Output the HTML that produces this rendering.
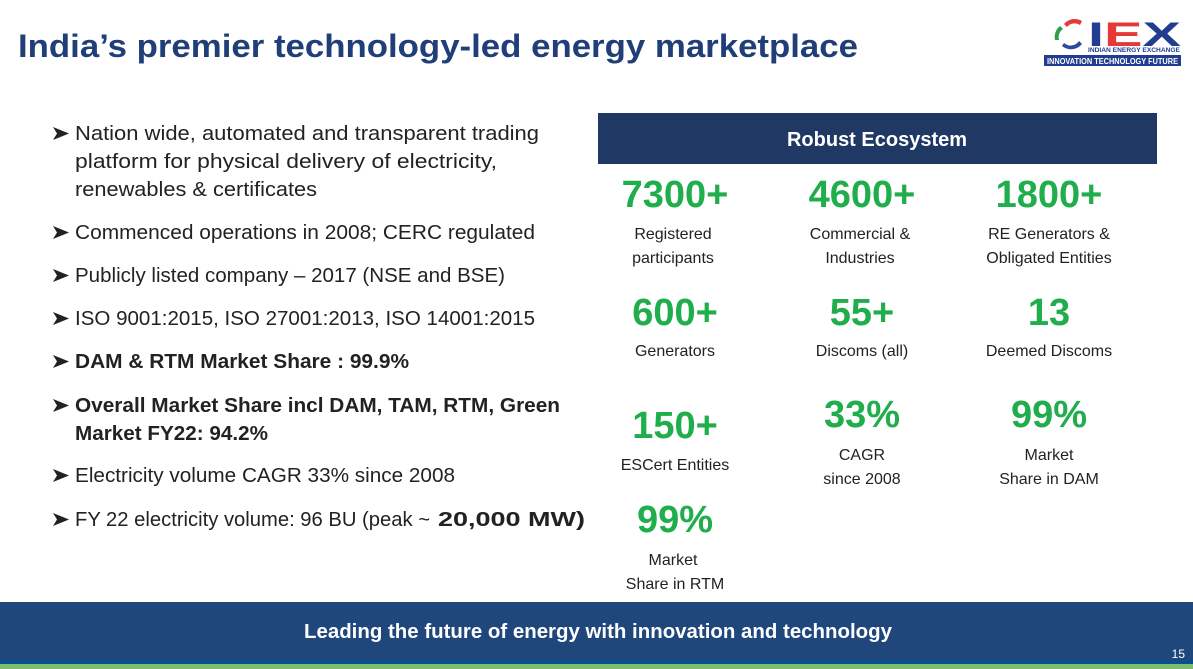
<!DOCTYPE html>
<html><head><meta charset="utf-8"><style>
html,body{margin:0;padding:0;background:#fff;}
svg{display:block;font-family:"Liberation Sans",Arial,sans-serif;}
</style></head><body>
<svg width="1193" height="669" viewBox="0 0 1193 669">
<defs><g id="arr"><path d="M0 -13 L16 -6.5 L0 0 L4 -6.5 Z" fill="#222"/></g></defs>
<text x="18" y="57" font-size="32" font-weight="bold" fill="#203f78" textLength="840" lengthAdjust="spacingAndGlyphs">India’s premier technology-led energy marketplace</text>
<g>
<path d="M1064 24 a14 14 0 0 1 18 -3 l-2 4 a10 10 0 0 0 -13 2z" fill="#e53935"/>
<path d="M1055 40 a14 14 0 0 1 5 -14 l3 3 a10 10 0 0 0 -4 11z" fill="#2e9e48"/>
<path d="M1062 46 a14 14 0 0 0 20 -2 l-3 -3 a10 10 0 0 1 -15 2z" fill="#2a4b9b"/>
<text x="1088" y="46" font-size="34" font-weight="bold" fill="#223d8f" textLength="93" lengthAdjust="spacingAndGlyphs">I<tspan fill="#e53935">E</tspan>X</text>
<text x="1088" y="52" font-size="6" font-weight="bold" fill="#223d8f" textLength="92" lengthAdjust="spacingAndGlyphs">INDIAN ENERGY EXCHANGE</text>
<rect x="1044" y="55" width="137" height="11" fill="#223d8f"/>
<text x="1047" y="64" font-size="8" font-weight="bold" fill="#fff" textLength="131" lengthAdjust="spacingAndGlyphs">INNOVATION  TECHNOLOGY  FUTURE</text>
</g>
<g font-size="20" fill="#222">
<use href="#arr" x="53" y="140"/><use href="#arr" x="53" y="239"/><use href="#arr" x="53" y="282"/><use href="#arr" x="53" y="325"/><use href="#arr" x="53" y="368"/><use href="#arr" x="53" y="412"/><use href="#arr" x="53" y="482"/><use href="#arr" x="53" y="526"/>
<text x="75" y="140" textLength="464" lengthAdjust="spacingAndGlyphs">Nation wide, automated and transparent trading</text>
<text x="75" y="168" textLength="422" lengthAdjust="spacingAndGlyphs">platform for physical delivery of electricity,</text>
<text x="75" y="196" textLength="242" lengthAdjust="spacingAndGlyphs">renewables &amp; certificates</text>
<text x="75" y="239" textLength="460" lengthAdjust="spacingAndGlyphs">Commenced operations in 2008; CERC regulated</text>
<text x="75" y="282" textLength="430" lengthAdjust="spacingAndGlyphs">Publicly listed company – 2017 (NSE and BSE)</text>
<text x="75" y="325" textLength="460" lengthAdjust="spacingAndGlyphs">ISO 9001:2015, ISO 27001:2013, ISO 14001:2015</text>
<text x="75" y="368" font-weight="bold" textLength="334" lengthAdjust="spacingAndGlyphs">DAM &amp; RTM Market Share : 99.9%</text>
<text x="75" y="412" font-weight="bold" textLength="485" lengthAdjust="spacingAndGlyphs">Overall Market Share incl DAM, TAM, RTM, Green</text>
<text x="75" y="440" font-weight="bold" textLength="193" lengthAdjust="spacingAndGlyphs">Market FY22: 94.2%</text>
<text x="75" y="482" textLength="380" lengthAdjust="spacingAndGlyphs">Electricity volume CAGR 33% since 2008</text>
<text x="75" y="526" textLength="355" lengthAdjust="spacingAndGlyphs">FY 22 electricity  volume:  96 BU  (peak ~</text>
<text x="438" y="526" font-weight="bold" textLength="147" lengthAdjust="spacingAndGlyphs">20,000 MW)</text>
</g>
<rect x="598" y="113" width="559" height="51" fill="#203864"/>
<text x="877" y="146" font-size="20" font-weight="bold" fill="#fff" text-anchor="middle">Robust Ecosystem</text>
<g text-anchor="middle">
<g font-size="38" font-weight="bold" fill="#1fae4b">
<text x="675" y="207">7300+</text><text x="862" y="207">4600+</text><text x="1049" y="207">1800+</text>
<text x="675" y="325">600+</text><text x="862" y="325">55+</text><text x="1049" y="325">13</text>
<text x="675" y="438">150+</text><text x="862" y="427">33%</text><text x="1049" y="427">99%</text>
<text x="675" y="532">99%</text>
</g>
<g font-size="16" fill="#222">
<text x="673" y="239">Registered</text><text x="673" y="263">participants</text>
<text x="860" y="239">Commercial &amp;</text><text x="860" y="263">Industries</text>
<text x="1049" y="239">RE Generators &amp;</text><text x="1049" y="263">Obligated Entities</text>
<text x="675" y="356">Generators</text><text x="862" y="356">Discoms (all)</text><text x="1049" y="356">Deemed Discoms</text>
<text x="675" y="470">ESCert Entities</text>
<text x="862" y="460">CAGR</text><text x="862" y="484">since 2008</text>
<text x="1049" y="460">Market</text><text x="1049" y="484">Share in DAM</text>
<text x="673" y="565">Market</text><text x="675" y="589">Share in RTM</text>
</g>
</g>
<rect x="0" y="602" width="1193" height="60" fill="#1f477b"/>
<rect x="0" y="660" width="1193" height="4" fill="#0d4e8e"/>
<rect x="0" y="664" width="1193" height="5" fill="#7dbd6c"/>
<text x="598" y="638" font-size="20" font-weight="bold" fill="#fff" text-anchor="middle" textLength="588" lengthAdjust="spacingAndGlyphs">Leading the future of energy with innovation and technology</text>
<text x="1185" y="658" font-size="12" fill="#fff" text-anchor="end">15</text>
</svg>
</body></html>
